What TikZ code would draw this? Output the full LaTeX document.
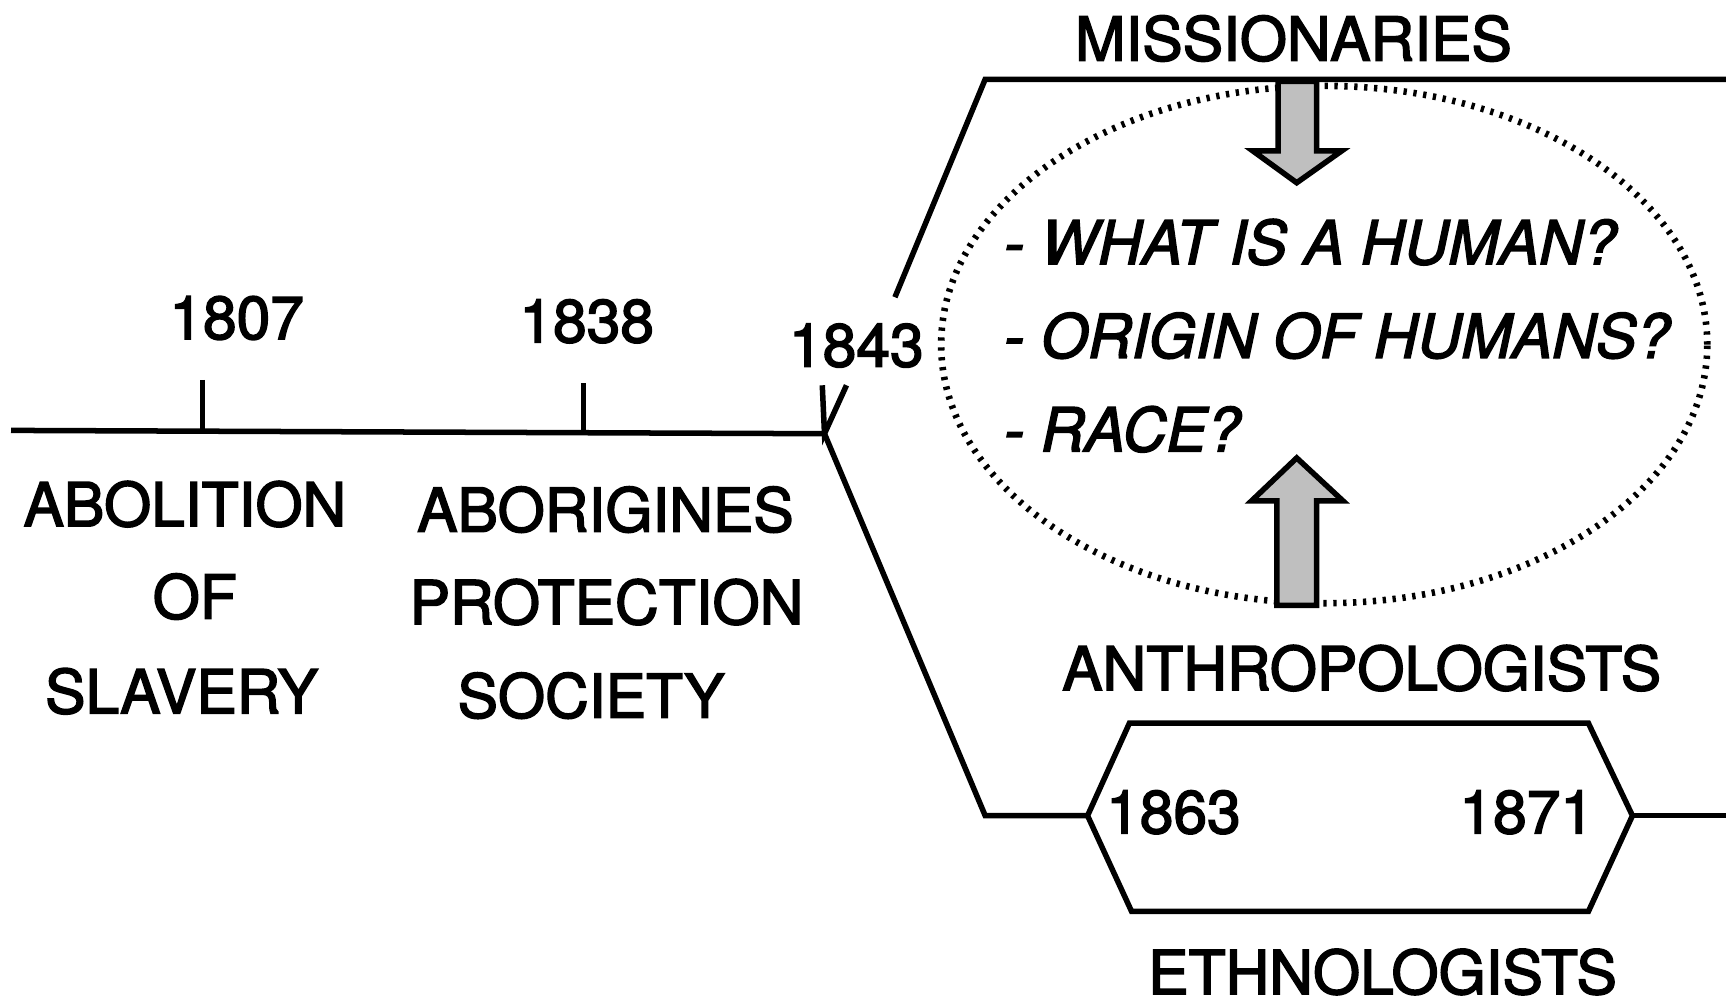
\documentclass[tikz,border=0pt]{standalone}
\usepackage{fontspec}
\setmainfont{TeX Gyre Heros}[FakeBold=2.5]
\usetikzlibrary{shapes.geometric}
\begin{document}
\begin{tikzpicture}[x=1pt,y=-1pt,
  lbl/.style={font=\fontsize{55}{60}\selectfont, inner sep=0pt, anchor=base},
  qlbl/.style={font=\fontsize{55}{60}\selectfont\itshape, inner sep=0pt, anchor=base west},
  branch/.style={line width=5pt, line join=miter},
  dotring/.style={line width=6pt, dash pattern=on 3pt off 6pt},
  blockarrow/.style={fill=gray!50, draw=black, line width=5pt, line join=miter}]
\useasboundingbox (0,0) rectangle (1568,913);

% timeline coordinates
\coordinate (tl0) at (10,391);
\coordinate (j) at (749,394);
\coordinate (k1807) at (184,392);
\coordinate (k1838) at (530,394);
\coordinate (k1807top) at (184,345);
\coordinate (k1838top) at (530,348);
\coordinate (vL) at (747,350);
\coordinate (vR) at (769,350);
\coordinate (upA) at (813,270);
\coordinate (upB) at (895,72);
\coordinate (upC) at (1568,72);
\coordinate (loA) at (895,741);
\coordinate (hexL) at (988,741);
\coordinate (hexR) at (1483,741);
\coordinate (loEnd) at (1568,741);

% main timeline and ticks
\draw[branch] (tl0) -- (j);
\draw[branch] (k1807top) -- (k1807);
\draw[branch] (k1838top) -- (k1838);
\draw[branch] (vL) -- (j) -- (vR);

% upper branch (missionaries)
\draw[branch] (upA) -- (upB) -- (upC);

% lower branch (ethnologists / anthropologists)
\draw[branch] (j) -- (loA) -- (hexL);
\draw[branch] (hexL) -- (1026,657) -- (1443,657) -- (hexR) -- (1443,828) -- (1028,828) -- cycle;
\draw[branch] (hexR) -- (loEnd);

% dotted ellipse
\node[draw, dotring, ellipse, minimum width=696pt, minimum height=470pt, inner sep=0pt] (ring) at (1203,313) {};

% block arrows
\draw[blockarrow] (1161,74) -- (1196,74) -- (1196,137) -- (1219,137) -- (1178,166) -- (1138,137) -- (1161,137) -- cycle;
\draw[blockarrow] (1160,550) -- (1196,550) -- (1196,455) -- (1220,455) -- (1178,416) -- (1137,455) -- (1160,455) -- cycle;

% labels
\node[lbl] (miss) at (1175,55) {MISSIONARIES};
\node[lbl] (y1807) at (215,308) {1807};
\node[lbl] (y1838) at (533,311) {1838};
\node[lbl] (y1843) at (778,333) {1843};
\node[lbl] (ab1) at (168,478) {ABOLITION};
\node[lbl] (ab2) at (177,562) {OF};
\node[lbl] (ab3) at (165,648) {SLAVERY};
\node[lbl] (ap1) at (550,483) {ABORIGINES};
\node[lbl] (ap2) at (551,567) {PROTECTION};
\node[lbl] (ap3) at (537,652) {SOCIETY};
\node[lbl] (anth) at (1237,627) {ANTHROPOLOGISTS};
\node[lbl] (eth) at (1256,903) {ETHNOLOGISTS};
\node[lbl] (y1863) at (1066,757) {1863};
\node[lbl] (y1871) at (1387,757) {1871};
\node[qlbl] (q1) at (912,240) {- WHAT IS A HUMAN?};
\node[qlbl] (q2) at (912,325) {- ORIGIN OF HUMANS?};
\node[qlbl] (q3) at (912,410) {- RACE?};
\end{tikzpicture}
\end{document}
